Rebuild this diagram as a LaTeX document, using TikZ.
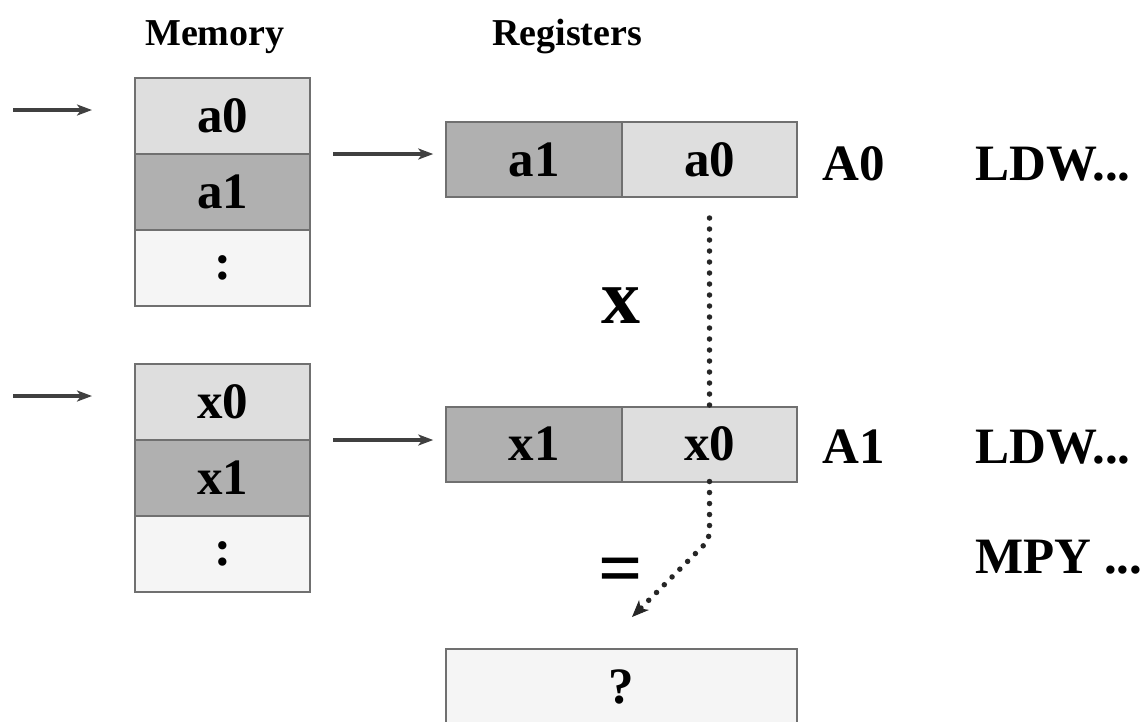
\documentclass[tikz,border=0pt]{standalone}
\usepackage{fontspec}
\setmainfont{Liberation Serif}
\usetikzlibrary{arrows.meta, positioning}
\definecolor{celdk}{RGB}{176,176,176}
\definecolor{cellt}{RGB}{222,222,222}
\definecolor{celwh}{RGB}{245,245,245}
\definecolor{bordc}{RGB}{112,112,112}
\definecolor{arwc}{RGB}{64,64,64}
\tikzset{%
    lab/.style={inner sep=0pt, font=\fontsize{51}{60}\selectfont\bfseries},
    hd/.style={inner sep=0pt, font=\fontsize{38}{44}\selectfont\bfseries},
    op/.style={inner sep=0pt, font=\fontsize{78}{90}\selectfont\bfseries},
    cel/.style={lab, rectangle, draw=bordc, line width=2pt, outer sep=0pt},
    mem/.style={cel, minimum width=175pt, minimum height=76pt},
    reg/.style={cel, minimum width=175.5pt, minimum height=75pt},
    dk/.style={fill=celdk},
    lt/.style={fill=cellt},
    wh/.style={fill=celwh},
    arw/.style={line width=3.5pt, draw=arwc, -{Stealth[length=15pt, width=11pt, inset=4pt]}},
    dts/.style={line width=5.5pt, line cap=round, dash pattern=on 0pt off 11pt, draw=black!85},
    dtsa/.style={dts, rounded corners=8pt, -{Stealth[length=17pt, width=14pt, inset=5pt, line width=1pt]}},
}
\begin{document}
\begin{tikzpicture}[x=1pt, y=-1pt]
    \useasboundingbox (0,0) rectangle (1146,721);
    \clip (0,0) rectangle (1146,721);
    \node [hd, anchor=base west] (hmem) at (145,45) {Memory};
    \node [hd, anchor=base west] (hreg) at (492,45) {Registers};
    \node [mem, lt] (a0) at (222.5,116) {a0};
    \node [mem, dk, below=0pt of a0] (a1) {a1};
    \node [mem, wh, below=0pt of a1] (ad) {:};
    \node [mem, lt] (x0) at (222.5,402) {x0};
    \node [mem, dk, below=0pt of x0] (x1) {x1};
    \node [mem, wh, below=0pt of x1] (xd) {:};
    \node [reg, dk] (ra1) at (534,159.5) {a1};
    \node [reg, lt, right=0pt of ra1] (ra0) {a0};
    \node [reg, dk] (rx1) at (534,444) {x1};
    \node [reg, lt, right=0pt of rx1] (rx0) {x0};
    \node [cel, wh, minimum width=351pt, minimum height=110pt, anchor=north] (res) at (621.5,649) {};
    \node [lab, anchor=base] (q) at (621,703) {?};
    \node [lab, anchor=base west] (nA0) at (822,180) {A0};
    \node [lab, anchor=base west] (nA1) at (822,463) {A1};
    \node [lab, anchor=base west] (ldwa) at (975,180) {LDW...};
    \node [lab, anchor=base west] (ldwx) at (975,463) {LDW...};
    \node [lab, anchor=base west] (mpy) at (975,573) {MPY ...};
    \node [op, anchor=base] (mul) at (621,323) {x};
    \node [op, anchor=base] (eq) at (621,594) {=};
    \coordinate (ina) at (13,110);
    \coordinate (inx) at (13,396);
    \coordinate (tip) at (632,617);
    \draw [arw, shorten >=43pt](ina) -- (ina -| a0.west);
    \draw [arw, shorten >=43pt](inx) -- (inx -| x0.west);
    \draw [arw, shorten <=23pt, shorten >=13pt](a0.south east) -- (a0.south east -| ra1.west);
    \draw [arw, shorten <=23pt, shorten >=13pt](x0.south east) -- (x0.south east -| rx1.west);
    \draw [dts, shorten <=21pt](ra0.south) -- (rx0.north);
    \draw [dtsa](rx0.south) -- ++(0,58) -- (tip);
\end{tikzpicture}
\end{document}
